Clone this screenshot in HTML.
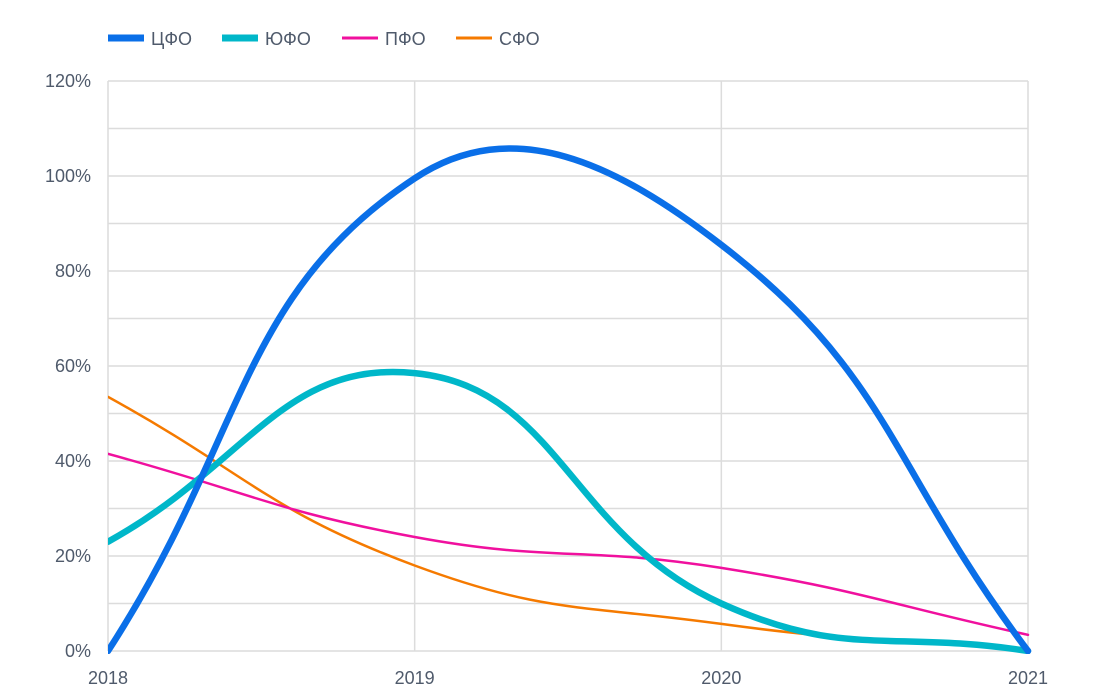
<!DOCTYPE html>
<html><head><meta charset="utf-8"><style>
html,body{margin:0;padding:0;background:#fff;}
svg{display:block;font-family:"Liberation Sans","DejaVu Sans",sans-serif;}
</style></head><body>
<svg id="chart" width="1110" height="699"></svg>
<script>
const years = ['2018','2019','2020','2021'];
const yTicks = [0,20,40,60,80,100,120];
const cfo = [0, 99.5, 85.5, 0];
const yufo = [23, 58.5, 10, 0];
const pfo = [41.5, 24, 17.5, 3.4];
const sfo = [53.5, 18, 5.7, 0.3];
const seriesNames = ['ЦФО','ЮФО','ПФО','СФО'];

const NS='http://www.w3.org/2000/svg';
const svg=document.getElementById('chart');
const X0=108,X1=1028,Y0=651,Y1=81;
const xs=i=>X0+(X1-X0)*i/(years.length-1);
const ys=v=>Y0-(Y0-Y1)*v/120;
function mk(tag,attrs,parent){const e=document.createElementNS(NS,tag);for(const k in attrs)e.setAttribute(k,attrs[k]);(parent||svg).appendChild(e);return e;}

const grid=mk('g',{});


for(let v=0;v<=120;v+=10){const l=mk('line',{x1:X0,x2:X1,y1:ys(v),y2:ys(v),stroke:'#dcdcdc','stroke-width':1.5},grid);

}
years.forEach((y,i)=>{const l=mk('line',{x1:xs(i),x2:xs(i),y1:Y1,y2:Y0,stroke:'#dcdcdc','stroke-width':1.5},grid);


const t=mk('text',{x:xs(i),y:684,'text-anchor':'middle','font-size':18,fill:'#4f5a6b'});t.textContent=y;

});
yTicks.forEach(v=>{const t=mk('text',{x:91,y:ys(v)+6,'text-anchor':'end','font-size':18,fill:'#4f5a6b'});t.textContent=v+'%';

});

function path(vals){
  const p=vals.map((v,i)=>[xs(i),ys(v)]);const t=0.45;const cps=[];
  for(let i=0;i<p.length;i++){
    const pr=p[Math.max(0,i-1)],c=p[i],nx=p[Math.min(p.length-1,i+1)];
    const d01=Math.hypot(c[0]-pr[0],c[1]-pr[1]),d12=Math.hypot(nx[0]-c[0],nx[1]-c[1]);
    let s01=d01/(d01+d12),s12=d12/(d01+d12);if(isNaN(s01))s01=0;if(isNaN(s12))s12=0;
    const fa=t*s01,fb=t*s12;
    cps.push({a:[c[0]-fa*(nx[0]-pr[0]),c[1]-fa*(nx[1]-pr[1])],b:[c[0]+fb*(nx[0]-pr[0]),c[1]+fb*(nx[1]-pr[1])]});
  }
  let d='M'+p[0][0]+','+p[0][1];
  for(let i=1;i<p.length;i++){d+=' C'+cps[i-1].b.join(',')+' '+cps[i].a.join(',')+' '+p[i].join(',');}
  return d;
}
const data=[cfo,yufo,pfo,sfo];
const colors=['#0a6fe8','#00b7c9','#f0109e','#f57a00'];
const widths=[6.5,6.5,2.5,2.5];
const slugs=['cfo','yufo','pfo','sfo'];
const clip=mk('clipPath',{id:'c'});mk('rect',{x:X0,y:Y1-10,width:X1-X0+6,height:Y0-Y1+13},clip);
[3,2,1,0].forEach(i=>{const e=mk('path',{d:path(data[i]),fill:'none',stroke:colors[i],'stroke-width':widths[i],'clip-path':'url(#c)','stroke-linecap':'round'});

});

const lx=[108,222,342,456];
seriesNames.forEach((n,i)=>{const g=mk('g',{});


mk('rect',{x:lx[i],y:38-(i<2?3.5:1.5),width:36,height:i<2?7:3,fill:colors[i]},g);
const t=mk('text',{x:lx[i]+43,y:45,'font-size':18,fill:'#4f5a6b'},g);t.textContent=n;});
</script>
</body></html>
